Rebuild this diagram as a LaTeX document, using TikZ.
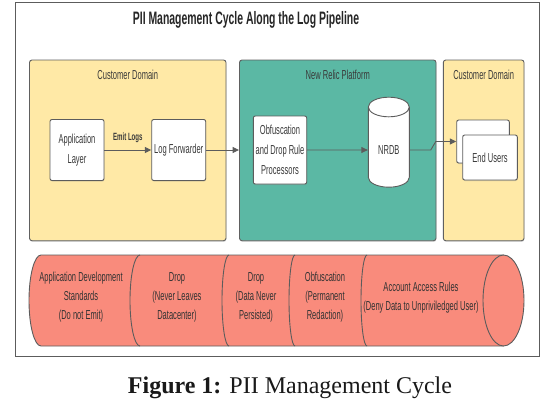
\documentclass[tikz,border=0pt]{standalone}
\usepackage{fontspec}
\setmainfont{Liberation Serif}
\newfontfamily\narrowsf[FakeStretch=0.58]{Liberation Sans}
\usepackage{tikz}
\usetikzlibrary{arrows.meta, shapes.geometric, shadows}
\definecolor{domyellow}{HTML}{FFE9A6}
\definecolor{nrteal}{HTML}{5BB8A4}
\definecolor{rulered}{HTML}{F98B7C}
\definecolor{edgegray}{HTML}{5C5C5C}
\definecolor{inkgray}{HTML}{3A3A3A}
\tikzset{
  % a domain panel
  panel/.style = {draw=gray!75!black, rounded corners=2.5pt, line width=0.9pt,
                  drop shadow={shadow xshift=0.4pt, shadow yshift=-1.2pt,
                               opacity=0.3}},
  % a panel heading
  hd/.style    = {font=\narrowsf\fontsize{13}{15}\selectfont, text=inkgray},
  % a component box
  box/.style   = {draw=edgegray, fill=white, rounded corners=2pt,
                  line width=0.9pt, inner sep=1pt, align=center,
                  text=inkgray, font=\narrowsf\fontsize{13}{20}\selectfont,
                  drop shadow={shadow xshift=0.4pt, shadow yshift=-1pt,
                               opacity=0.3}},
  % the data store
  store/.style = {draw=edgegray, fill=white, cylinder, shape border rotate=90,
                  aspect=0.7, line width=0.9pt, minimum width=41,
                  minimum height=90, text=inkgray,
                  font=\narrowsf\fontsize{13}{15}\selectfont},
  % a flow
  tr/.style    = {-{Triangle[length=6.5pt,width=6pt]}, draw=edgegray,
                  line width=0.9pt},
  % an edge label
  el/.style    = {font=\narrowsf\bfseries\fontsize{10.5}{12}\selectfont,
                  inner sep=1pt, text=inkgray},
  % the policy cylinder
  rulebody/.style = {fill=rulered, draw=edgegray, line width=0.9pt},
  % text inside a policy section
  rt/.style    = {align=center, text=black!80,
                  font=\narrowsf\fontsize{13}{19}\selectfont},
  % title and caption
  ttl/.style   = {font=\narrowsf\bfseries\fontsize{18}{20}\selectfont,
                  text=black!85},
  capt/.style  = {font=\fontsize{24}{28}\selectfont, text=black!90},
}

\begin{document}
\begin{tikzpicture}[x=1pt, y=-1pt]
  \useasboundingbox (0,0) rectangle (551,405);
  % --- frame and title ---
  \draw[edgegray, line width=0.8pt] (15.7,2.7) rectangle (539.3,356);
  \node[ttl] (title) at (246,20) {PII Management Cycle Along the Log Pipeline};
  % --- the three domains ---
  \node[panel, fill=domyellow, minimum width=196.5, minimum height=180.7]
    (cdl) at (127.75,150.35) {};
  \node[panel, fill=nrteal, minimum width=196.5, minimum height=180.7]
    (nrp) at (337.75,150.35) {};
  \node[panel, fill=domyellow, minimum width=80.7, minimum height=180.7]
    (cdr) at (483.65,150.35) {};
  \node[hd] (cdl-t) at (127.75,75) {Customer Domain};
  \node[hd] (nrp-t) at (337.75,75) {New Relic Platform};
  \node[hd] (cdr-t) at (483.65,75) {Customer Domain};
  % --- components ---
  \node[box, minimum width=54, minimum height=61] (app) at (77,150)
    {Application\\Layer};
  \node[box, minimum width=54, minimum height=61] (lf) at (178.7,150)
    {Log Forwarder};
  \node[box, minimum width=53.4, minimum height=68] (obf) at (280,150)
    {Obfuscation\\and Drop Rule\\Processors};
  \node[store] (nrdb) at (388.8,150) {NRDB};
  \node[box, minimum width=52.6, minimum height=43] (usersb) at (483,141.5) {};
  \node[box, minimum width=54.6, minimum height=45] (users) at (490,157.5)
    {End Users};
  % --- flows ---
  \draw[tr] (app) -- node[el, above=6pt] (emit) {Emit Logs} (lf);
  \draw[tr] (lf) -- (lf.east -| nrp.west);
  \draw[tr] (obf) -- (nrdb);
  \draw[tr] (nrdb.east) -- ++(21,0) -- ++(5,-8.5) -- (usersb.west);
  % --- the policy cylinder ---
  \path[rulebody] (41,255) -- (503.5,255) -- (503.5,346) -- (41,346)
    arc[start angle=90, end angle=270, x radius=12, y radius=45.5] -- cycle;
  \draw[rulebody] (503.5,300.5) ellipse [x radius=20.5, y radius=45.5];
  \foreach \x/\rx in {140/10, 229/7, 295/6, 367/6}
    \draw[edgegray, line width=0.9pt] (\x,255)
      arc[start angle=270, end angle=90, x radius=\rx, y radius=45.5];
  \node[rt] (r1) at (81,297.5)  {Application Development\\Standards\\(Do not Emit)};
  \node[rt] (r2) at (177,297.5) {Drop\\(Never Leaves\\Datacenter)};
  \node[rt] (r3) at (256,297.5) {Drop\\(Data Never\\Persisted)};
  \node[rt] (r4) at (325,297.5) {Obfuscation\\(Permanent\\Redaction)};
  \node[rt] (r5) at (421,298)   {Account Access Rules\\(Deny Data to Unpriviledged User)};
  % --- caption ---
  \node[capt] (caption) at (290,388) {\textbf{Figure 1:} PII Management Cycle};
\end{tikzpicture}
\end{document}
